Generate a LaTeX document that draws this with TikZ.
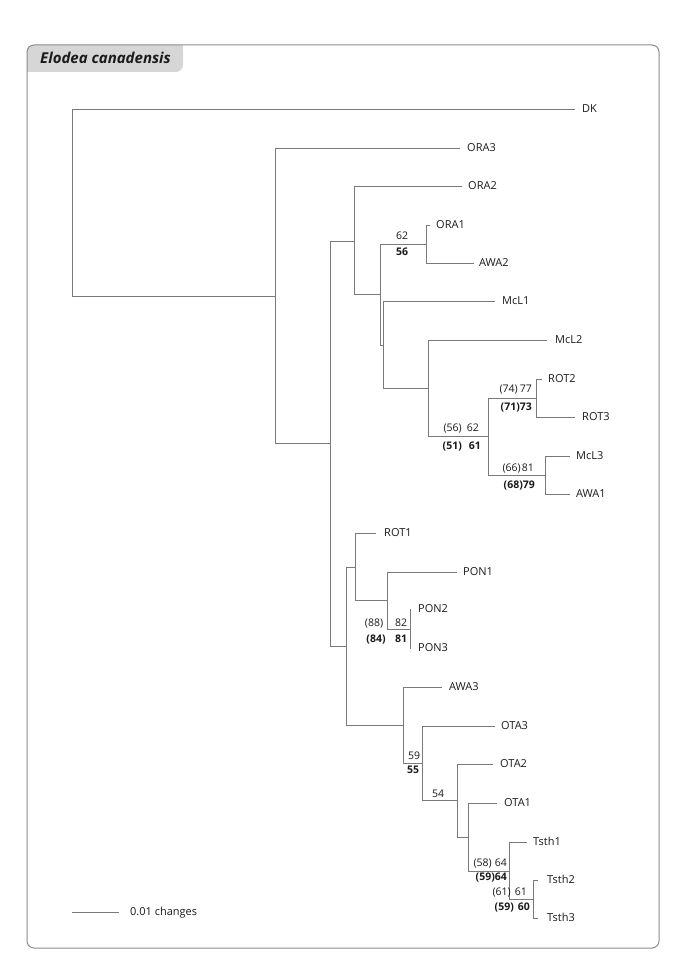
\documentclass[tikz,border=0pt]{standalone}
\usepackage{fontspec}
\setmainfont{Open Sans}
\definecolor{branch}{HTML}{7A7A7A}
\definecolor{framec}{HTML}{8C8C8C}
\definecolor{tabc}{HTML}{D6D6D6}
\definecolor{txt}{HTML}{1A1A1A}
\tikzset{
 br/.style={draw=branch, line width=0.7pt},
 leaf/.style={anchor=west, inner sep=0pt, text=txt, font=\fontsize{11}{13}\selectfont, text height=7.9pt, text depth=0pt},
 sup/.style={inner sep=0pt, text=txt, font=\fontsize{10.5}{12}\selectfont, text height=7.5pt, text depth=0pt},
 supb/.style={sup, font=\fontsize{10.5}{12}\selectfont\bfseries},
}
\newcommand\leafnode[5]{\coordinate (t#1) at (#2,#4); \node[leaf] (#1) at (#3,#4) {#5};}
\begin{document}
\begin{tikzpicture}[x=1pt,y=-1pt]
\useasboundingbox (0,0) rectangle (685,968);
% tab and frame
\fill[tabc, rounded corners=7pt] (27,45) rectangle (183,72);
\fill[tabc] (27,58) rectangle (40,72);
\fill[tabc] (170,45) rectangle (183,58);
\draw[framec, line width=1pt, rounded corners=7pt] (27,45) rectangle (659,948);
\node[anchor=base west, inner sep=0pt, text=txt, font=\fontsize{15}{18}\selectfont\bfseries\itshape] (title) at (40,64) {Elodea canadensis};
% internal nodes
\coordinate (root) at (72,202);
\coordinate (A) at (275,296);
\coordinate (X) at (330,443);
\coordinate (B) at (354,241);
\coordinate (C) at (380,294);
\coordinate (D) at (426,244);
\coordinate (E) at (383,345);
\coordinate (F) at (428,388);
\coordinate (G) at (488,436);
\coordinate (H) at (536,398);
\coordinate (I) at (545,475);
\coordinate (J) at (346,646);
\coordinate (K) at (355,567);
\coordinate (L) at (387,600);
\coordinate (M) at (410,629);
\coordinate (N) at (403,725);
\coordinate (O) at (422,763);
\coordinate (P) at (457,800);
\coordinate (Q) at (468,837);
\coordinate (R) at (509,871);
\coordinate (S) at (533,899);
% leaves: name, tip x, label x, y, text
\leafnode{DK}{575}{582}{109}{DK}
\leafnode{ORA3}{460}{467}{148}{ORA3}
\leafnode{ORA2}{462}{468}{186}{ORA2}
\leafnode{ORA1}{430}{436}{225}{ORA1}
\leafnode{AWA2}{474}{479}{263}{AWA2}
\leafnode{McL1}{495}{502}{301}{McL1}
\leafnode{McL2}{547}{555}{340}{McL2}
\leafnode{ROT2}{542}{548}{379}{ROT2}
\leafnode{ROT3}{575}{582}{417}{ROT3}
\leafnode{McL3}{570}{576}{456}{McL3}
\leafnode{AWA1}{570}{576}{494}{AWA1}
\leafnode{ROT1}{376}{384}{533}{ROT1}
\leafnode{PON1}{457}{463}{572}{PON1}
\leafnode{PON2}{411}{418}{609}{PON2}
\leafnode{PON3}{411}{418}{648}{PON3}
\leafnode{AWA3}{442}{449}{687}{AWA3}
\leafnode{OTA3}{495}{501}{726}{OTA3}
\leafnode{OTA2}{493}{500}{764}{OTA2}
\leafnode{OTA1}{497}{504}{803}{OTA1}
\leafnode{Tsth1}{527}{533}{842}{Tsth1}
\leafnode{Tsth2}{538}{547}{880}{Tsth2}
\leafnode{Tsth3}{538}{547}{918}{Tsth3}
% branches
\foreach \p/\c in {root/tDK, root/A, A/tORA3, A/X, X/B, X/J, B/tORA2, B/C, C/D, C/E,
  D/tORA1, D/tAWA2, E/tMcL1, E/F, F/tMcL2, F/G, G/H, G/I, H/tROT2, H/tROT3,
  I/tMcL3, I/tAWA1, J/K, J/N, K/tROT1, K/L, L/tPON1, L/M, M/tPON2, M/tPON3,
  N/tAWA3, N/O, O/tOTA3, O/P, P/tOTA2, P/Q, Q/tOTA1, Q/R, R/tTsth1, R/S,
  S/tTsth2, S/tTsth3}
  \draw[br] (\p) |- (\c);
% support values
\node[sup] (sC) at (402,236) {62};
\node[supb] (sCb) at (402,252) {56};
\node[sup, anchor=east] (sG) at (479,428) {(56)\hspace{5pt}62};
\node[supb, anchor=east] (sGb) at (481,446) {(51)\hspace{7pt}61};
\node[sup, anchor=east] (sH) at (532,389) {(74)\hspace{2pt}77};
\node[supb, anchor=east] (sHb) at (532,407) {(71)73};
\node[sup, anchor=east] (sI) at (534,468) {(66)\hspace{1pt}81};
\node[supb, anchor=east] (sIb) at (535,485) {(68)79};
\node[sup] (sM1) at (374,623) {(88)};
\node[sup] (sM2) at (401,623) {82};
\node[supb] (sM3) at (376,639) {(84)};
\node[supb] (sM4) at (401,639) {81};
\node[sup] (sN) at (414,756) {59};
\node[supb] (sNb) at (413,770) {55};
\node[sup] (sP) at (438,794) {54};
\node[sup, anchor=east] (sR) at (507,863) {(58)\hspace{3pt}64};
\node[supb, anchor=east] (sRb) at (507,877) {(59)64};
\node[sup, anchor=east] (sS) at (527,892) {(61)\hspace{4pt}61};
\node[supb, anchor=east] (sSb) at (530,907) {(59)\hspace{4pt}60};
% scale bar
\coordinate (sb1) at (72,912);
\coordinate (sb2) at (119,912);
\draw[br] (sb1) -- (sb2);
\node[leaf] (sbl) at (130,912) {0.01 changes};
\end{tikzpicture}
\end{document}
